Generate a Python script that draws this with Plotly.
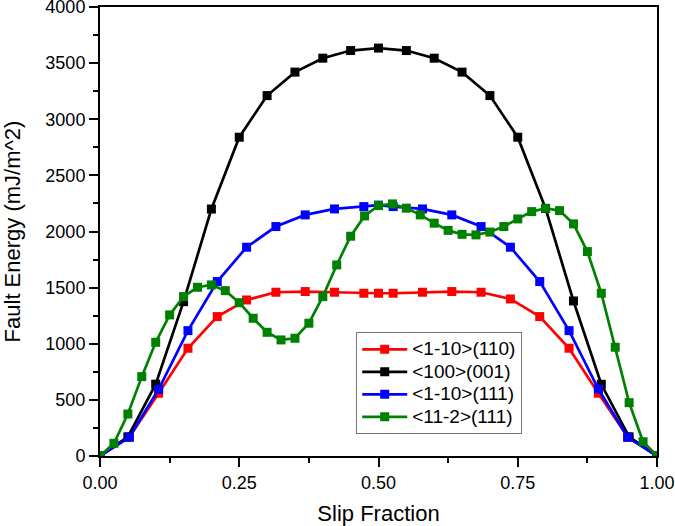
import plotly.graph_objects as go

# ---- data ----
x_black = [i / 20 for i in range(21)]
y_black = [0, 170, 640, 1375, 2200, 2840, 3211, 3420, 3544, 3612, 3634,
           3612, 3544, 3420, 3211, 2840, 2205, 1381, 639, 170, 0]

x_red = [k / 19 for k in range(10)] + [0.5] + [k / 19 for k in range(10, 20)]
y_red = [0, 170, 559, 960, 1242, 1390, 1459, 1465, 1459, 1450, 1450,
         1450, 1459, 1465, 1459, 1399, 1242, 960, 559, 170, 0]

x_blue = [k / 19 for k in range(10)] + [0.5] + [k / 19 for k in range(10, 20)]
y_blue = [0, 167, 594, 1117, 1554, 1860, 2044, 2148, 2201, 2222, 2235,
          2222, 2201, 2148, 2044, 1860, 1554, 1117, 597, 167, 0]

x_green = [i / 40 for i in range(41)]
y_green = [0, 113, 374, 707, 1013, 1257, 1420, 1503, 1524, 1473, 1366,
           1227, 1102, 1034, 1049, 1183, 1420, 1702, 1958, 2139, 2231,
           2246, 2208, 2148, 2074, 2010, 1975, 1970, 1995, 2044, 2112,
           2177, 2207, 2186, 2068, 1821, 1450, 969, 475, 127, 0]

names = ["<1-10>(110)", "<100>(001)", "<1-10>(111)", "<11-2>(111)"]
colors = ["#FF0000", "#000000", "#0000FF", "#008000"]
series = [(x_red, y_red), (x_black, y_black), (x_blue, y_blue), (x_green, y_green)]

x_ticks = [0, 0.25, 0.5, 0.75, 1.0]
x_ticklabels = ["0.00", "0.25", "0.50", "0.75", "1.00"]
y_ticks = [0, 500, 1000, 1500, 2000, 2500, 3000, 3500, 4000]

fig = go.Figure()
for (xs, ys), name, col in zip(series, names, colors):
    label = '<span style="font-size:19px">' + name.replace("<", "&lt;").replace(">", "&gt;") + "</span>"
    fig.add_trace(go.Scatter(
        x=xs, y=ys, name=label, mode="lines+markers",
        line=dict(color=col, width=2.7),
        marker=dict(symbol="square", size=9, color=col),
    ))

font_family = "Arial, Liberation Sans, sans-serif"
fig.update_layout(
    width=675, height=526,
    margin=dict(l=100, r=18, t=7, b=70),
    paper_bgcolor="white", plot_bgcolor="white",
    font=dict(family=font_family, color="black"),
    showlegend=True,
    legend=dict(
        x=0.46, y=0.276, xanchor="left", yanchor="top",
        bordercolor="#777777", borderwidth=1, bgcolor="white",
        font=dict(size=15, family=font_family),
        tracegroupgap=0, itemwidth=45,
    ),
)
fig.update_xaxes(
    range=[0, 1], tickvals=x_ticks, ticktext=x_ticklabels,
    showgrid=False, zeroline=False, automargin=False,
    showline=True, linecolor="black", linewidth=2, mirror=True,
    ticks="outside", ticklen=9, tickwidth=2, tickcolor="black",
    tickfont=dict(size=18), ticklabeloverflow="allow",
    minor=dict(dtick=0.125, tick0=0, ticks="outside", ticklen=5, tickwidth=2, tickcolor="black", showgrid=False),
    title=dict(text="Slip Fraction", font=dict(size=22), standoff=15),
)
fig.update_yaxes(
    range=[0, 4000], tickvals=y_ticks,
    showgrid=False, zeroline=False, automargin=False,
    showline=True, linecolor="black", linewidth=2, mirror=True,
    ticks="outside", ticklen=9, tickwidth=2, tickcolor="black",
    tickfont=dict(size=18), ticklabeloverflow="allow",
    minor=dict(dtick=250, tick0=0, ticks="outside", ticklen=5, tickwidth=2, tickcolor="black", showgrid=False),
    title=dict(text="Fault Energy (mJ/m^2)", font=dict(size=22), standoff=30),
)

fig.write_html("out.html", config={"displayModeBar": False},
               post_script="document.body.style.margin='0';")
